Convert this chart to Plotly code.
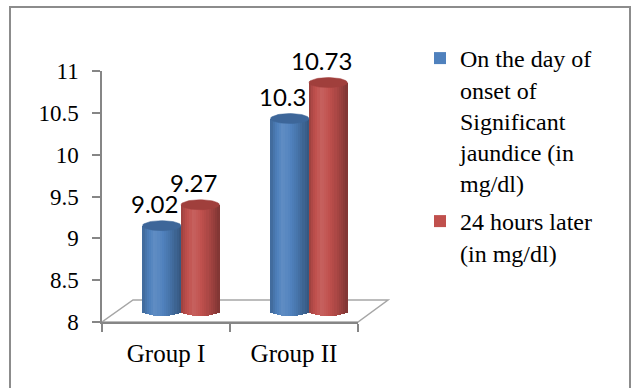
import plotly.graph_objects as go
import numpy as np

# ---- data -------------------------------------------------------------
groups = ["Group I", "Group II"]
onset_values = [9.02, 10.3]      # on the day of onset of significant jaundice
later_values = [9.27, 10.73]     # 24 hours later
series_names = [
    "On the day of<br>onset of<br>Significant<br>jaundice (in<br>mg/dl)",
    "24 hours later<br>(in mg/dl)",
]
y_ticks = [8, 8.5, 9, 9.5, 10, 10.5, 11]

# ---- geometry helpers (pixel -> paper) ----------------------------------
W, H = 632, 388
def pxx(p):
    return p / W
def pxy(p):
    return 1 - p / H

SERIF = "Liberation Serif, Times New Roman, serif"
SANS = "Lato, Carlito, Calibri, sans-serif"

base_colors = [(79, 129, 189), (192, 80, 77)]
cap_colors = ["#3d6699", "#a03f3c"]

# light profile across a cylinder (left -> right)
prof_u = [0.0, 0.12, 0.32, 0.5, 0.7, 0.88, 1.0]
prof_f = [0.80, 0.95, 1.10, 1.02, 0.90, 0.76, 0.66]

def shade(rgb, f):
    if f >= 1:
        t = f - 1
        c = [v + (255 - v) * t for v in rgb]
    else:
        c = [v * f for v in rgb]
    return "rgb(%d,%d,%d)" % tuple(int(round(min(255, max(0, v)))) for v in c)

fig = go.Figure()

# invisible trace so the category axis in front is laid out
fig.add_trace(go.Scatter(x=groups, y=[8, 8], mode="none", showlegend=False,
                         hoverinfo="skip", xaxis="x", yaxis="y"))

bar_w = 0.3          # width of one cylinder in category units
ry = 0.06            # vertical radius of the elliptical ends (value units)
n_strips = 18
xpos = np.arange(len(groups))
series = [onset_values, later_values]
offsets = [-bar_w, 0.0]

for s, vals in enumerate(series):
    vals = np.array(vals, dtype=float)
    rgb = base_colors[s]
    # full cylinder body in the base colour (also provides the legend entry)
    fig.add_trace(go.Bar(
        x=xpos, y=vals - 8, base=8, offset=offsets[s], width=bar_w,
        marker=dict(color="rgb(%d,%d,%d)" % rgb, line=dict(width=0)),
        name=series_names[s], legendgroup=str(s), showlegend=True,
        hoverinfo="skip", xaxis="x2", yaxis="y2"))
    # shaded vertical strips give the rounded look
    sw = bar_w / n_strips
    for k in range(n_strips):
        u = (k + 0.5) / n_strips
        f = float(np.interp(u, prof_u, prof_f))
        drop = ry * np.sqrt(max(0.0, 1 - (2 * u - 1) ** 2))
        fig.add_trace(go.Bar(
            x=xpos, y=vals - (8 - drop), base=8 - drop,
            offset=offsets[s] + k * sw - sw * 0.05, width=sw * 1.1,
            marker=dict(color=shade(rgb, f), line=dict(width=0)),
            showlegend=False, legendgroup=str(s), hoverinfo="skip",
            xaxis="x2", yaxis="y2"))
    # elliptical top caps
    t = np.linspace(0, 2 * np.pi, 60)
    for i, v in enumerate(vals):
        cx = xpos[i] + offsets[s] + bar_w / 2
        fig.add_trace(go.Scatter(
            x=cx + (bar_w / 2) * np.cos(t), y=v + ry * np.sin(t),
            mode="lines", fill="toself", fillcolor=cap_colors[s],
            line=dict(color=cap_colors[s], width=0.5),
            showlegend=False, hoverinfo="skip", xaxis="x2", yaxis="y2"))

# value labels above each cylinder
annotations = []
for s, vals in enumerate(series):
    for i, v in enumerate(vals):
        annotations.append(dict(
            x=xpos[i] + offsets[s] + bar_w / 2, y=v, xref="x2", yref="y2",
            text=f"{v:g}", showarrow=False, yshift=22, xshift=-7,
            font=dict(family=SANS, size=24, color="#000000")))

# floor of the 3-D plot area and outer frame
floor = dict(type="path", xref="paper", yref="paper", layer="below",
             path="M %f %f L %f %f L %f %f L %f %f Z" % (
                 pxx(102), pxy(322), pxx(358), pxy(322),
                 pxx(388), pxy(300), pxx(133), pxy(300)),
             line=dict(color="#a6a6a6", width=1.5))
frame = dict(type="rect", xref="paper", yref="paper", layer="below",
             x0=pxx(10), x1=pxx(630), y0=-0.05, y1=pxy(7),
             line=dict(color="#8c8c8c", width=2))

fig.update_layout(
    width=W, height=H,
    margin=dict(l=0, r=0, t=0, b=0, autoexpand=False),
    paper_bgcolor="white", plot_bgcolor="rgba(0,0,0,0)",
    barmode="overlay", bargap=0,
    showlegend=True,
    shapes=[floor, frame],
    annotations=annotations,
    xaxis=dict(domain=[pxx(102), pxx(358)], type="category",
               categoryorder="array", categoryarray=groups,
               range=[-0.5, 1.5], showline=True, linecolor="#868686",
               linewidth=1.5, ticks="outside", tickson="boundaries",
               ticklen=8, tickcolor="#868686", tickwidth=1.5,
               showgrid=False, zeroline=False, anchor="y", automargin=False,
               ticklabelstandoff=8,
               tickfont=dict(family=SERIF, size=25, color="#000000")),
    yaxis=dict(domain=[pxy(322), pxy(71)], range=[8, 11],
               tickvals=y_ticks, showline=True, linecolor="#868686",
               linewidth=1.5, ticks="outside", ticklen=8,
               tickcolor="#868686", tickwidth=1.5, showgrid=False,
               zeroline=False, anchor="x", ticklabelstandoff=9,
               automargin=False,
               tickfont=dict(family=SERIF, size=23, color="#000000")),
    xaxis2=dict(domain=[pxx(117), pxx(373)], range=[-0.5, 1.5],
                visible=False, anchor="y2", automargin=False),
    yaxis2=dict(domain=[pxy(322 - 11 + 0.2 * 83.67), pxy(60)],
                range=[7.8, 11], visible=False, anchor="x2",
                automargin=False),
    legend=dict(x=pxx(420), y=pxy(36), xanchor="left", yanchor="top",
                valign="top", tracegroupgap=4, traceorder="grouped",
                bgcolor="rgba(0,0,0,0)",
                font=dict(family=SERIF, size=24, color="#000000")),
)

fig.write_html("out.html")
